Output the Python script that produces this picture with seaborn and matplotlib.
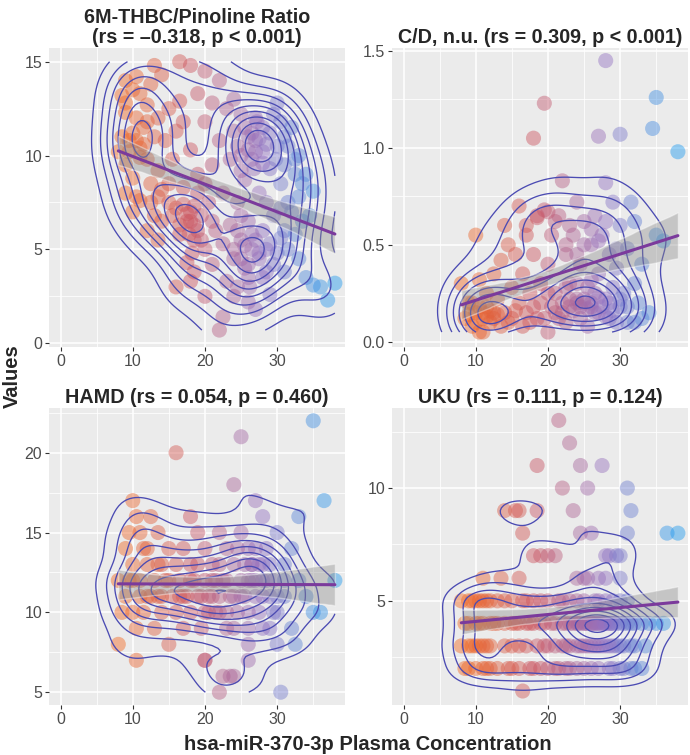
import numpy as np
import matplotlib.pyplot as plt
import seaborn as sns
from matplotlib.colors import LinearSegmentedColormap, Normalize
from matplotlib.ticker import MultipleLocator, FormatStrFormatter, MaxNLocator

# --- 6M-THBC/Pinoline Ratio ---
x_thbc = [8.0, 8.5, 9.0, 9.5, 10.0, 10.5, 11.0, 11.0, 11.5, 12.0, 12.0, 10.5, 11.0, 12.5, 13.0,
          13.5, 13.5, 14.0, 14.5, 14.0, 15.0, 15.0, 15.5, 16.0, 16.5, 16.5, 16.0, 16.5, 17.0, 17.0,
          17.5, 17.5, 18.0, 18.0, 18.5, 18.5, 16.0, 18.0, 18.5, 19.0, 19.0, 19.5, 20.0, 20.0, 20.0,
          20.5, 21.0, 21.0, 21.0, 21.5, 22.0, 22.0, 22.0, 22.5, 22.5, 22.5, 23.0, 23.0, 23.5, 23.5,
          24.0, 24.0, 24.0, 24.5, 24.5, 25.0, 25.0, 25.0, 25.5, 25.5, 26.0, 26.0, 26.0, 26.5, 26.5,
          27.0, 27.0, 27.0, 27.5, 27.5, 28.0, 28.0, 28.0, 28.5, 28.5, 29.0, 29.0, 29.5, 29.5, 30.0,
          30.0, 30.5, 31.0, 31.0, 31.5, 32.0, 32.5, 33.0, 33.5, 34.0, 35.0, 35.0, 36.0, 37.0, 38.0,
          8.5, 9.0, 9.5, 10.0, 10.5, 11.0, 11.5, 12.0, 9.0, 10.0, 12.5, 13.0, 13.5, 14.0,
          15.0, 15.5, 16.5, 17.0, 17.5, 18.0, 18.5, 19.0, 19.5, 17.8, 18.2, 19.0, 20.0, 21.0,
          25.5, 26.0, 26.5, 27.0, 27.5, 28.0, 26.8, 27.2, 28.5, 25.0, 29.0, 24.5, 30.5, 29.8,
          24.0, 25.0, 25.5, 26.0, 26.5, 27.0, 27.5, 28.0, 28.5, 24.5, 25.0, 26.2, 29.5, 30.5,
          31.5, 32.5, 33.0, 31.0, 24.0,
          9.0, 10.5, 12.5, 13.0, 18.0, 31.0, 33.0, 34.0, 32.0, 30.0, 34.5, 20.0, 26.0, 29.0,
          9.0, 10.0, 12.0, 13.5, 31.5, 32.5, 30.5, 33.5]
y_thbc = [10.2, 13.2, 12.3, 10.8, 13.5, 12.0, 13.3, 10.4, 11.5, 12.7, 9.8, 7.8, 7.6, 8.5, 11.0,
          12.0, 9.2, 14.3, 10.8, 6.5, 12.5, 8.5, 9.8, 11.3, 15.0, 12.9, 7.2, 5.8, 11.8, 8.3,
          6.5, 4.3, 10.3, 7.0, 6.3, 5.5, 3.0, 3.3, 3.8, 13.3, 9.0, 6.8, 14.5, 11.8, 5.0,
          7.5, 12.8, 9.5, 4.2, 6.0, 14.0, 10.8, 0.7, 8.0, 5.3, 1.4, 12.5, 3.3, 9.8, 6.3,
          11.3, 4.5, 13.0, 7.5, 3.0, 10.0, 5.5, 12.2, 8.7, 4.0, 11.0, 6.5, 3.5, 9.8, 5.0,
          10.8, 1.8, 12.0, 8.0, 4.5, 10.2, 6.0, 11.5, 7.5, 3.8, 9.3, 5.3, 12.2, 6.8, 4.8,
          10.5, 8.5, 6.0, 11.0, 5.0, 7.0, 9.0, 4.5, 6.5, 3.5, 8.1, 3.1, 3.0, 2.3, 3.2,
          11.0, 12.8, 10.2, 11.2, 10.8, 9.9, 10.6, 11.8, 9.5, 8.8, 7.5, 6.8, 7.8, 8.2,
          7.5, 6.8, 6.3, 7.4, 6.9, 6.5, 7.3, 6.0, 5.5, 5.8, 4.8, 8.0, 8.5, 6.5,
          11.5, 10.3, 11.2, 10.2, 10.9, 9.6, 9.3, 11.8, 10.6, 9.2, 11.2, 10.5, 11.8, 9.8,
          5.0, 4.5, 5.2, 4.2, 5.8, 5.5, 4.8, 3.5, 5.0, 6.0, 6.8, 3.0, 4.2, 5.6,
          7.5, 5.8, 7.8, 3.8, 2.5,
          14.0, 14.2, 13.8, 14.8, 14.8, 9.5, 10.0, 9.0, 11.5, 12.8, 6.8, 2.5, 2.2, 2.6,
          8.0, 7.0, 6.0, 5.5, 10.5, 9.8, 7.2, 8.5]

# --- C/D, n.u. ---
x_cd = [8.0, 8.5, 9.0, 9.5, 10.0, 10.0, 10.5, 10.5, 11.0, 11.5, 11.5, 12.0, 12.5, 12.5, 13.0,
        13.5, 13.5, 14.0, 14.0, 14.5, 15.0, 15.0, 15.5, 16.0, 16.0, 16.5, 16.5, 17.0, 17.0, 17.5,
        18.0, 18.0, 18.5, 18.5, 19.0, 19.0, 19.5, 19.5, 20.0, 20.0, 20.5, 21.0, 21.0, 21.5, 22.0,
        22.0, 22.5, 22.5, 23.0, 23.0, 23.5, 24.0, 24.0, 24.5, 24.5, 25.0, 25.0, 25.5, 25.5, 26.0,
        26.0, 26.5, 26.5, 27.0, 27.0, 27.0, 27.5, 28.0, 28.0, 28.0, 28.5, 28.5, 29.0, 29.0, 29.5,
        30.0, 30.0, 30.0, 30.5, 31.0, 31.0, 31.5, 32.0, 32.0, 32.5, 33.0, 34.0, 34.5, 35.0, 35.0,
        36.0, 38.0,
        9.0, 10.0, 10.5, 11.0, 11.5, 12.0, 12.5, 13.0, 9.5, 11.0, 14.5, 15.5, 17.5, 18.0,
        19.5, 20.5, 21.5, 22.0, 23.0, 23.5, 24.0, 24.5, 25.0, 25.5, 26.0, 26.5, 27.0, 27.5,
        28.0, 28.5, 29.0, 29.5, 30.0, 31.0, 32.0, 33.0, 22.5, 24.0, 26.0, 20.0,
        21.0, 22.5, 24.0, 25.0, 26.0, 27.0, 28.0, 29.5, 23.0, 20.0, 18.5, 17.0]
y_cd = [0.30, 0.12, 0.20, 0.08, 0.15, 0.55, 0.32, 0.05, 0.12, 0.18, 0.25, 0.10, 0.15, 0.35, 0.22,
        0.08, 0.42, 0.15, 0.60, 0.50, 0.28, 0.12, 0.45, 0.20, 0.70, 0.08, 0.35, 0.15, 0.55, 0.25,
        1.05, 0.45, 0.12, 0.65, 0.30, 0.20, 1.23, 0.68, 0.05, 0.40, 0.55, 0.15, 0.25, 0.65, 0.83,
        0.20, 0.10, 0.45, 0.30, 0.18, 0.55, 0.72, 0.22, 0.12, 0.40, 0.62, 0.20, 0.28, 0.08, 0.50,
        0.18, 0.65, 0.25, 1.06, 0.35, 0.15, 0.55, 1.45, 0.82, 0.22, 0.45, 0.12, 0.72, 0.28, 0.38,
        1.07, 0.18, 0.60, 0.25, 0.48, 0.10, 0.72, 0.62, 0.30, 0.20, 0.40, 0.15, 1.10, 1.26, 0.55,
        0.52, 0.98,
        0.14, 0.10, 0.18, 0.15, 0.13, 0.16, 0.12, 0.14, 0.20, 0.05, 0.10, 0.16, 0.10, 0.18,
        0.12, 0.18, 0.12, 0.15, 0.22, 0.16, 0.20, 0.18, 0.22, 0.17, 0.20, 0.15, 0.23, 0.18,
        0.13, 0.20, 0.16, 0.10, 0.22, 0.18, 0.10, 0.12, 0.28, 0.30, 0.32, 0.25,
        0.62, 0.50, 0.45, 0.50, 0.58, 0.52, 0.62, 0.48, 0.60, 0.67, 0.64, 0.60]

# --- HAMD ---
x_hamd = [8.0, 8.0, 8.5, 9.0, 9.0, 9.5, 10.0, 10.0, 10.0, 10.5, 10.5, 10.5, 11.0, 11.0, 11.5,
          11.5, 12.0, 12.0, 12.5, 13.0, 13.0, 13.5, 13.5, 14.0, 14.0, 14.5, 15.0, 15.0, 15.5, 16.0,
          16.0, 16.0, 16.5, 17.0, 17.0, 17.5, 18.0, 18.0, 18.0, 18.5, 19.0, 19.0, 19.5, 20.0, 20.0,
          20.0, 20.5, 21.0, 21.0, 21.5, 22.0, 22.0, 22.0, 22.5, 23.0, 23.0, 23.0, 23.5, 24.0, 24.0,
          24.0, 24.5, 25.0, 25.0, 25.0, 25.5, 26.0, 26.0, 26.0, 26.5, 26.5, 27.0, 27.0, 27.5, 28.0,
          28.0, 28.0, 28.5, 29.0, 29.0, 29.5, 30.0, 30.0, 30.0, 30.5, 31.0, 31.0, 32.0, 32.0, 32.5,
          33.0, 33.0, 34.0, 35.0, 35.0, 36.0, 36.5, 38.0,
          19.5, 20.5, 21.0, 21.5, 22.0, 22.5, 20.0, 23.0, 24.0, 25.0, 26.0, 26.5, 27.0, 27.5,
          28.0, 26.0, 25.5, 27.0, 28.5, 29.0, 29.5, 24.5, 22.0, 18.0, 17.0, 15.0, 14.0, 12.5,
          11.0, 10.0, 9.5, 12.0, 13.5, 16.5, 19.0, 30.0, 31.0, 24.0, 26.0, 28.0,
          23.5, 20.0]
y_hamd = [12, 8, 10, 14, 11, 15, 17, 13, 12, 16, 9, 7, 15, 11, 14,
          10, 13, 11, 16, 12, 9, 15, 11, 13, 10, 12, 14, 8, 11, 20,
          13, 10, 12, 14, 9, 11, 16, 13, 10, 12, 15, 11, 9, 14, 12,
          7, 10, 13, 11, 12, 5, 15, 10, 6, 14, 12, 9, 11, 18, 13,
          6, 10, 21, 15, 12, 11, 14, 9, 7, 13, 12, 17, 11, 10, 16,
          13, 12, 14, 11, 9, 12, 15, 10, 8, 5, 13, 11, 14, 9, 8,
          16, 12, 11, 22, 10, 10, 17, 12,
          11, 11, 12, 10, 11, 12, 10, 10, 11, 11, 12, 13, 12, 13,
          11, 10, 13, 14, 12, 13, 10, 14, 13, 12, 11, 12, 11, 11,
          12, 10, 12, 14, 13, 11, 13, 11, 12, 9, 8, 9,
          6, 7]

# --- UKU (one row of values per score) ---
x_uku = [16.5,
         8.5, 10.0, 11.5, 12.0, 13.0, 14.5, 16.0, 17.5, 19.0, 20.0, 21.5, 22.5, 23.0, 25.0, 26.0,
         28.5, 29.0, 30.5, 31.5, 32.0, 33.0, 9.0, 11.0, 15.0, 18.0, 21.0, 24.0, 27.0, 30.0,
         8.0, 9.0, 10.0, 10.5, 11.0, 11.5, 15.0, 17.0, 19.5, 20.0, 21.0, 22.0, 23.0, 24.0, 25.0,
         25.5, 26.0, 27.0, 27.5, 28.0, 29.0, 29.5, 30.0, 31.5, 32.0, 33.5, 9.5, 12.0, 14.0, 16.0,
         18.5, 22.5, 24.5, 26.5, 28.5, 30.5,
         8.5, 9.0, 10.0, 11.0, 12.0, 12.5, 13.0, 15.0, 15.5, 16.0, 17.0, 18.0, 19.0, 20.5, 21.0,
         22.0, 23.0, 23.5, 24.0, 24.5, 25.0, 25.5, 26.0, 26.3, 26.6, 27.0, 27.3, 27.6, 28.0, 28.3,
         28.6, 29.0, 29.5, 30.0, 31.0, 32.0, 33.0, 34.0, 35.0, 36.0, 10.5, 14.0, 17.5, 19.5,
         22.5, 24.2, 25.2, 26.1, 26.8, 27.8, 28.8, 30.5, 31.5,
         8.0, 9.0, 9.5, 10.0, 10.5, 11.0, 12.0, 13.0, 15.0, 16.5, 18.0, 20.0, 21.5, 24.0, 25.0,
         26.5, 27.0, 29.0, 31.0, 11.5, 14.0, 17.0, 19.0, 22.0, 23.0, 28.0, 30.0,
         11.0, 13.5, 16.0, 24.0, 25.0, 25.5, 27.0, 28.0, 30.0,
         18.0, 19.0, 20.0, 21.0, 28.0, 28.5, 29.5, 30.0,
         16.5, 24.5, 26.0, 31.0, 36.5, 38.0,
         14.0, 15.5, 16.0, 18.5, 23.5, 31.5,
         22.0, 25.5, 31.0,
         18.5, 24.5, 27.5,
         23.0,
         21.5]
y_uku = [1] + [2] * 29 + [3] * 36 + [4] * 53 + [5] * 27 + [6] * 9 + [7] * 8 + [8] * 6 \
        + [9] * 6 + [10] * 3 + [11] * 3 + [12] + [13]

titles = ["6M-THBC/Pinoline Ratio\n(rs = \u20130.318, p < 0.001)",
          "C/D, n.u. (rs = 0.309, p < 0.001)",
          "HAMD (rs = 0.054, p = 0.460)",
          "UKU (rs = 0.111, p = 0.124)"]

sns.set_style("darkgrid", {"axes.facecolor": "#EBEBEB", "grid.color": "white"})
plt.rcParams["font.family"] = ["Liberation Sans", "DejaVu Sans"]

cmap = LinearSegmentedColormap.from_list("mir", ["#F26A21", "#CC5560", "#9472C2", "#1F9BEF"])
norm = Normalize(8, 38)


def bw_nrd(v):
    # same rule as MASS::bandwidth.nrd / 4 (sd of gaussian kernel)
    q75, q25 = np.percentile(v, [75, 25])
    return 1.06 * min(np.std(v, ddof=1), (q75 - q25) / 1.34) * len(v) ** -0.2


def density_2d(x, y, xr, yr, n=100):
    gx = np.linspace(xr[0], xr[1], n)
    gy = np.linspace(yr[0], yr[1], n)
    hx, hy = bw_nrd(x), bw_nrd(y)
    kx = np.exp(-0.5 * ((gx[:, None] - x[None, :]) / hx) ** 2) / (hx * np.sqrt(2 * np.pi))
    ky = np.exp(-0.5 * ((gy[:, None] - y[None, :]) / hy) ** 2) / (hy * np.sqrt(2 * np.pi))
    z = ky @ kx.T / len(x)
    return gx, gy, z


fig = plt.figure(figsize=(6.9, 7.55), dpi=100)
W, H = 690, 755
boxes = [(49, 48, 345, 347), (392, 48, 688, 347), (49, 408, 345, 705), (392, 408, 688, 705)]

settings = [
    (x_thbc, y_thbc, (-0.2, 15.73), 5, 2.5, "%g"),
    (x_cd, y_cd, (-0.027, 1.515), 0.5, 0.25, "%.1f"),
    (x_hamd, y_hamd, (4.2, 22.8), 5, 2.5, "%g"),
    (x_uku, y_uku, (0.38, 13.55), 5, 2.5, "%g"),
]

for (l, t, r, b), (x, y, ylim, ymaj, ymin, fmt), title in zip(boxes, settings, titles):
    ax = fig.add_axes([l / W, 1 - b / H, (r - l) / W, (b - t) / H])
    x = np.asarray(x, float)
    y = np.asarray(y, float)

    sns.scatterplot(x=x, y=y, hue=x, palette=cmap, hue_norm=norm, s=118, alpha=0.45,
                    edgecolor="none", legend=False, ax=ax, zorder=2)

    gx, gy, z = density_2d(x, y, (0, x.max()), (y.min(), y.max()))
    lev = MaxNLocator(nbins=10).tick_values(0, z.max())
    lev = lev[(lev > 0) & (lev < z.max())]
    ax.contour(gx, gy, z, levels=lev, colors="#4B4BB3", linewidths=0.95, zorder=3)

    sns.regplot(x=x, y=y, scatter=False, color="#8C8C8C", line_kws={"alpha": 0},
                seed=0, ax=ax)
    ax.collections[-1].set_alpha(0.4)
    ax.collections[-1].set_zorder(4)
    sns.regplot(x=x, y=y, scatter=False, ci=None, color="#7B3A9C",
                line_kws={"linewidth": 2.2, "zorder": 5}, ax=ax)

    ax.set_xlim(-1.6, 39.4)
    ax.set_ylim(*ylim)
    ax.xaxis.set_major_locator(MultipleLocator(10))
    ax.xaxis.set_minor_locator(MultipleLocator(5))
    ax.yaxis.set_major_locator(MultipleLocator(ymaj))
    ax.yaxis.set_minor_locator(MultipleLocator(ymin))
    ax.yaxis.set_major_formatter(FormatStrFormatter(fmt))
    ax.grid(which="major", color="white", linewidth=1.1)
    ax.grid(which="minor", color="white", linewidth=0.55)
    ax.set_axisbelow(True)
    ax.tick_params(which="major", bottom=True, left=True, length=3, width=0.8,
                   color="#333333", labelcolor="#4D4D4D", labelsize=11.5, pad=2)
    ax.tick_params(which="minor", length=0)
    for s in ax.spines.values():
        s.set_visible(False)
    ax.set_xlabel("")
    ax.set_ylabel("")
    ax.set_title(title, fontsize=14.2, fontweight="bold", pad=3.5, linespacing=1.1)

fig.text(12 / W, 1 - 376 / H, "Values", rotation=90, ha="center", va="center",
         fontsize=14.5, fontweight="bold")
fig.text(368 / W, 1 - 744 / H, "hsa-miR-370-3p Plasma Concentration", ha="center",
         va="center", fontsize=14.5, fontweight="bold")

fig.savefig("out.png", dpi=100)
